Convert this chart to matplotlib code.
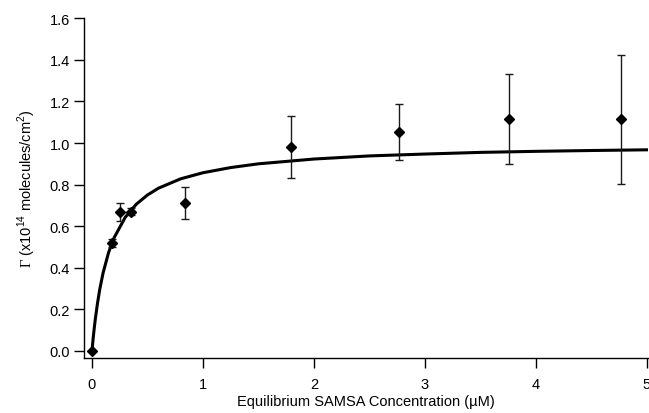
import matplotlib

matplotlib.use("Agg")
import matplotlib.pyplot as plt

plt.rcParams["font.family"] = ["Liberation Sans", "DejaVu Sans"]
plt.rcParams["mathtext.fontset"] = "custom"
plt.rcParams["mathtext.rm"] = "Liberation Serif"
plt.rcParams["mathtext.sf"] = "Liberation Sans"

# measured adsorption points (uM, x1e14 molecules/cm2)
conc = [0.0, 0.183, 0.255, 0.349, 0.842, 1.79, 2.77, 3.76, 4.77]
gamma = [0.0, 0.52, 0.67, 0.67, 0.711, 0.981, 1.053, 1.114, 1.114]
gamma_err = [0.0, 0.02, 0.043, 0.016, 0.076, 0.148, 0.135, 0.217, 0.31]

# fitted isotherm
fit_x = [0.0, 0.01, 0.02, 0.03, 0.05, 0.07, 0.1, 0.15, 0.2, 0.3, 0.4, 0.5,
         0.6, 0.8, 1.0, 1.25, 1.5, 2.0, 2.5, 3.0, 3.5, 4.0, 4.5, 5.1]
fit_y = [0.0, 0.057, 0.107, 0.153, 0.23, 0.296, 0.375, 0.474, 0.545, 0.643,
         0.706, 0.75, 0.783, 0.828, 0.857, 0.882, 0.9, 0.923, 0.938, 0.947,
         0.955, 0.96, 0.964, 0.968]

yticks = [0.0, 0.2, 0.4, 0.6, 0.8, 1.0, 1.2, 1.4, 1.6]
xticks = [0, 1, 2, 3, 4, 5]

fig = plt.figure(figsize=(6.49, 4.14), dpi=100)
ax = fig.add_axes([0.1294, 0.1329, 0.8691, 0.8205])

ax.plot(fit_x, fit_y, color="black", lw=2.2, zorder=2)
ax.errorbar(conc, gamma, yerr=gamma_err, fmt="D", color="black", ms=5.5,
            ecolor="#1a1a1a", elinewidth=1.0, capsize=3, capthick=1.0,
            zorder=3)

ax.set_xlim(-0.072, 5.01)
ax.set_ylim(-0.034, 1.6)
ax.set_xticks(xticks)
ax.set_yticks(yticks)
ax.set_yticklabels([f"{v:.1f}" for v in yticks])

for side in ("top", "right"):
    ax.spines[side].set_visible(False)
for side in ("left", "bottom"):
    ax.spines[side].set_linewidth(1.0)

ax.tick_params(axis="both", direction="out", length=7, width=1.0,
               labelsize=10.5)
ax.tick_params(axis="y", pad=3)
ax.tick_params(axis="x", pad=6.5)

ax.set_xlabel("Equilibrium SAMSA Concentration (\u00b5M)", fontsize=10.5,
              labelpad=2)
ax.set_ylabel(r"$\Gamma$ (x10$^{\mathsf{14}}$ molecules/cm$^{\mathsf{2}}$)",
              fontsize=10.5, labelpad=8)

fig.savefig("out.png", dpi=100)
